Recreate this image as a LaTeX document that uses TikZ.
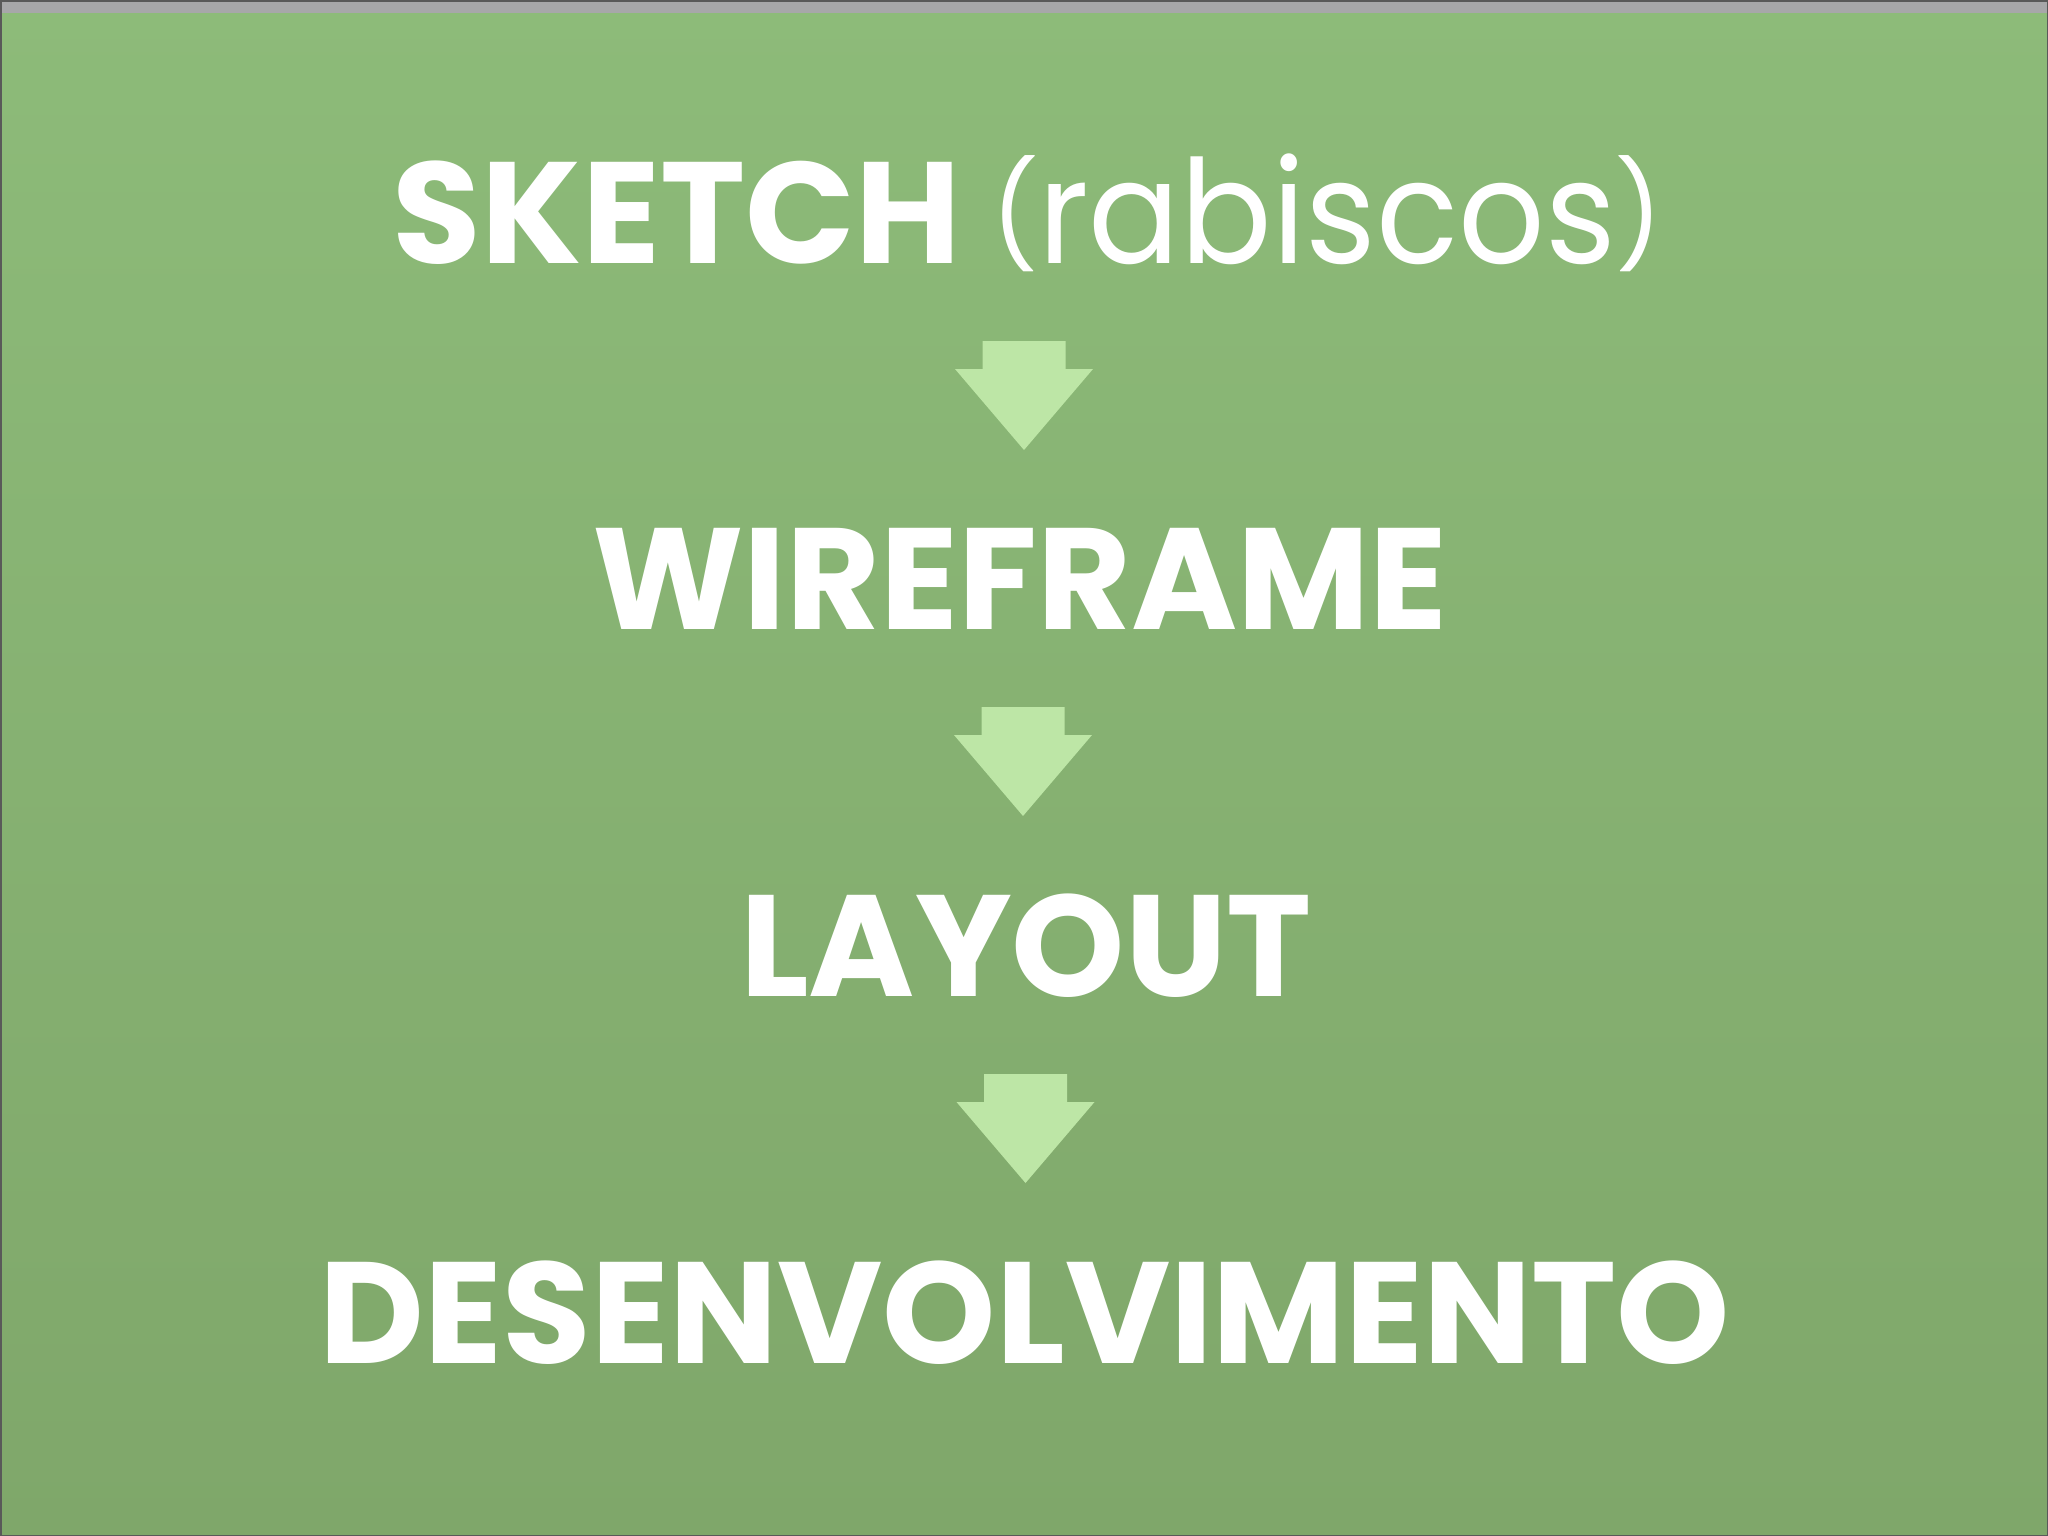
\documentclass[tikz,border=0pt]{standalone}
\usepackage{fontspec}
\setmainfont{Poppins}
\usetikzlibrary{calc}

\definecolor{bgtop}{HTML}{8DBB79}
\definecolor{bgbot}{HTML}{7FA76A}
\definecolor{barcol}{HTML}{A7A7A9}
\definecolor{arrowcol}{HTML}{BDE6A6}

\newcommand{\smallparen}[1]{\raisebox{3.2pt}{\scalebox{0.72}{#1}}}

\tikzset{
  stage/.style={text=white, font=\fontsize{41}{45}\selectfont\bfseries, inner sep=0pt,
    text height=29pt, text depth=0pt, anchor=center},
  downarrow/.pic={
    \fill[arrowcol] (-41.5,-54.5) -- (41.5,-54.5) -- (41.5,-26.5) -- (69,-26.5)
      -- (0,54.5) -- (-69,-26.5) -- (-41.5,-26.5) -- cycle;
  }
}

\begin{document}
\begin{tikzpicture}[x=0.01cm,y=-0.01cm]
\useasboundingbox (0,0) rectangle (2048,1536);
% background
\shade[top color=bgtop, bottom color=bgbot] (0,0) rectangle (2048,1536);
\fill[barcol] (0,0) rectangle (2048,13);
\draw[black!65, line width=0.03cm] (0,0) rectangle (2048,1536);

\node[stage] (sketch) at (1028,213) {SKETCH {\mdseries\smallparen{(}\scalebox{0.94}[1]{rabiscos}\smallparen{)}}};
\node[stage] (wireframe) at (1020,578) {WIREFRAME};
\node[stage] (layout) at (1026,945) {LAYOUT};
\node[stage] (desenv) at (1025,1312) {DESENVOLVIMENTO};

% arrows between stages
\path (sketch) -- (wireframe) coordinate[midway] (m1);
\path (wireframe) -- (layout) coordinate[midway] (m2);
\path (layout) -- (desenv) coordinate[midway] (m3);
\pic at (m1) {downarrow};
\pic at (m2) {downarrow};
\pic at (m3) {downarrow};
\end{tikzpicture}
\end{document}
